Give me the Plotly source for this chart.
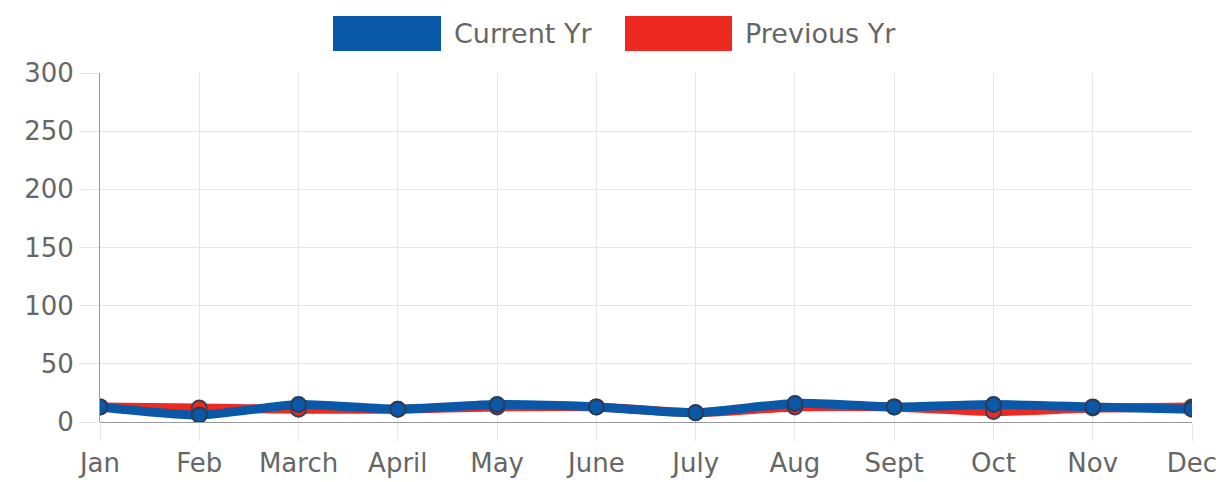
import plotly.graph_objects as go

months = ["Jan", "Feb", "March", "April", "May", "June", "July", "Aug", "Sept", "Oct", "Nov", "Dec"]
current_yr = [13, 6, 15, 11, 15, 13, 8, 16, 13, 15, 13, 11]
previous_yr = [13, 12, 11, 11, 13, 13, 8, 13, 13, 9, 12, 13]
y_ticks = [0, 50, 100, 150, 200, 250, 300]

blue = "#0a58a8"
red = "#ee2a20"
FONT = "DejaVu Sans, Liberation Sans, Arial"
TXT = "#666666"

fig = go.Figure()
fig.add_trace(go.Scatter(
    x=months, y=previous_yr, mode="lines+markers", name="Previous Yr",
    line=dict(color=red, width=9, shape="spline", smoothing=0.6),
    marker=dict(size=15, color=red, line=dict(color="#3a3f55", width=2)),
    showlegend=False))
fig.add_trace(go.Scatter(
    x=months, y=current_yr, mode="lines+markers", name="Current Yr",
    line=dict(color=blue, width=9, shape="spline", smoothing=0.6),
    marker=dict(size=15, color=blue, line=dict(color="#2d3a55", width=2)),
    showlegend=False))

# legend boxes and labels (page pixel positions converted to paper coords)
PL, PR, PT, PB = 100, 1192, 73, 422
def px(x):
    return (x - PL) / (PR - PL)
def py(y):
    return (PB - y) / (PB - PT)

legend_items = [("Current Yr", blue, 333, 441, 452), ("Previous Yr", red, 625, 732, 743)]
for name, col, x0, x1, tx in legend_items:
    fig.add_shape(type="rect", xref="paper", yref="paper",
                  x0=px(x0), x1=px(x1), y0=py(51), y1=py(16),
                  fillcolor=col, line=dict(width=0))
    fig.add_annotation(text=name, xref="paper", yref="paper",
                       x=px(tx), y=py(33),
                       xanchor="left", yanchor="middle", showarrow=False,
                       font=dict(size=27, color=TXT, family=FONT))

# page body has an 8px offset
fig.update_layout(
    width=1226, height=482,
    margin=dict(l=PL - 8, r=1226 + 8 - PR, t=PT - 8, b=482 + 8 - PB, autoexpand=False),
    paper_bgcolor="white", plot_bgcolor="white",
    font=dict(family=FONT, size=26, color=TXT),
    xaxis=dict(type="category", range=[0, 11], showgrid=True, gridcolor="#e6e6e6", gridwidth=1,
               ticks="outside", ticklen=18, tickcolor="#e6e6e6", automargin=False,
               showline=False, zeroline=False, tickfont=dict(size=26, color=TXT)),
    yaxis=dict(range=[0, 300], tickvals=y_ticks, showgrid=True, gridcolor="#e6e6e6",
               ticks="outside", ticklen=20, tickcolor="#e6e6e6", automargin=False,
               showline=True, linecolor="#999999", linewidth=1,
               zeroline=True, zerolinecolor="#999999", zerolinewidth=1,
               tickfont=dict(size=26, color=TXT)),
)

fig.write_html("out.html")
